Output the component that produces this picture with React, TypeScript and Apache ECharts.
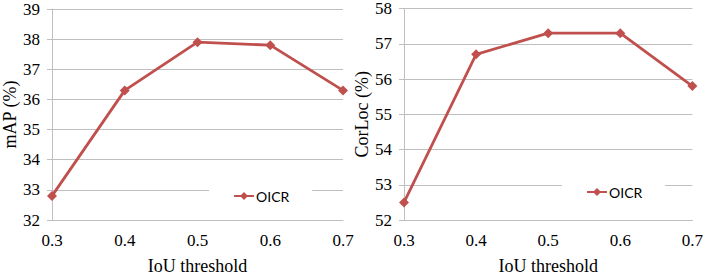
import React, { useEffect, useRef } from "react";
import * as echarts from "echarts";

const thresholds = ["0.3", "0.4", "0.5", "0.6", "0.7"];
const mapValues = [32.8, 36.3, 37.9, 37.8, 36.3];
const corlocValues = [52.5, 56.7, 57.3, 57.3, 55.8];
const seriesName = "OICR";

const RED = "#c0504d";
const GRID = "#bfbfbf";
const SERIF = "Liberation Serif";

function xAxis(gridIndex: number) {
  return {
    type: "category",
    gridIndex,
    data: thresholds,
    boundaryGap: false,
    axisLine: { show: true, lineStyle: { color: GRID, width: 1 } },
    axisTick: { show: false },
    axisLabel: { color: "#000", fontFamily: SERIF, fontSize: 17, margin: 12 },
    splitLine: { show: false },
    name: "IoU threshold",
    nameLocation: "middle",
    nameGap: 37,
    nameTextStyle: { color: "#000", fontFamily: SERIF, fontSize: 18 },
  };
}

function yAxis(gridIndex: number, min: number, max: number, name: string) {
  return {
    type: "value",
    gridIndex,
    min,
    max,
    interval: 1,
    axisLine: { show: true, lineStyle: { color: GRID, width: 1 } },
    axisTick: { show: true, length: 5, lineStyle: { color: GRID } },
    axisLabel: { color: "#000", fontFamily: SERIF, fontSize: 17, margin: 12 },
    splitLine: { show: true, lineStyle: { color: GRID, width: 1 } },
    name,
    nameLocation: "middle",
    nameGap: 31,
    nameTextStyle: { color: "#000", fontFamily: SERIF, fontSize: 18 },
  };
}

function lineSeries(idx: number, data: number[]) {
  return {
    type: "line",
    name: seriesName,
    xAxisIndex: idx,
    yAxisIndex: idx,
    data,
    symbol: "diamond",
    symbolSize: 10,
    lineStyle: { color: RED, width: 2.8 },
    itemStyle: { color: RED },
  };
}

function legend(left: number, top: number) {
  return {
    data: [seriesName],
    left,
    top,
    orient: "horizontal",
    backgroundColor: "#fff",
    padding: [6, 23, 6, 24],
    itemWidth: 20,
    itemHeight: 10,
    textStyle: { color: "#000", fontFamily: "Lato", fontSize: 14, padding: [0, 0, 0, -3] },
  };
}

export default function App() {
  const ref = useRef<HTMLDivElement>(null);
  useEffect(() => {
    if (!ref.current) return;
    const chart = echarts.init(ref.current, undefined, { renderer: "svg" });
    chart.setOption({
      animation: false,
      backgroundColor: "#fff",
      grid: [
        { left: 52, right: 363, top: 9, bottom: 52 },
        { left: 404, right: 12, top: 8, bottom: 52 },
      ],
      xAxis: [xAxis(0), xAxis(1)],
      yAxis: [yAxis(0, 32, 39, "mAP (%)"), yAxis(1, 52, 58, "CorLoc (%)")],
      legend: [legend(209, 183), legend(562, 179)],
      series: [lineSeries(0, mapValues), lineSeries(1, corlocValues)],
    });
    return () => chart.dispose();
  }, []);
  return (
    <div
      ref={ref}
      style={{ position: "fixed", left: 0, top: 0, width: 706, height: 280 }}
    />
  );
}
